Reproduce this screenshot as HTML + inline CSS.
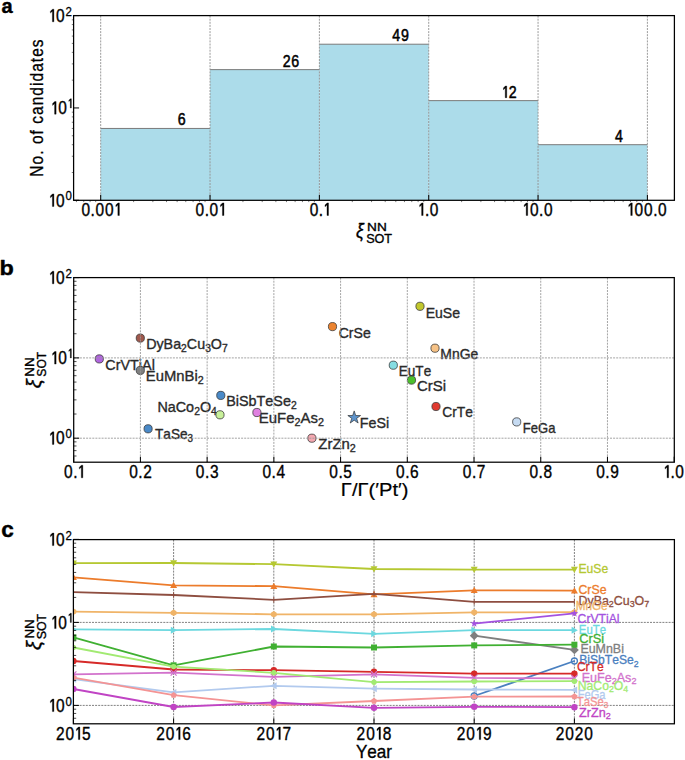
<!DOCTYPE html>
<html><head><meta charset="utf-8"><style>
html,body{margin:0;padding:0;background:#fff;}
svg{display:block;}
text{font-kerning:none;}
</style></head><body>
<svg width="685" height="760" viewBox="0 0 685 760">
<rect width="685" height="760" fill="#fff"/>
<g transform="translate(1.41,12.6) scale(0.9885,0.9979)" style='font-family:"Liberation Sans", sans-serif;font-weight:bold;' fill="#000" stroke="#000" stroke-width="0.4" stroke-linejoin="round"><text x="0" y="0" font-size="20.3">a</text></g>
<g transform="translate(-0.44,274.5) scale(1.1535,1.0333)" style='font-family:"Liberation Sans", sans-serif;font-weight:bold;' fill="#000" stroke="#000" stroke-width="0.4" stroke-linejoin="round"><text x="0" y="0" font-size="20.3">b</text></g>
<g transform="translate(1.22,536.6) scale(1.1109,1.0437)" style='font-family:"Liberation Sans", sans-serif;font-weight:bold;' fill="#000" stroke="#000" stroke-width="0.4" stroke-linejoin="round"><text x="0" y="0" font-size="20.3">c</text></g>
<rect x="100.7" y="128.44" width="109.34" height="71.86" fill="#acdcea"/>
<line x1="100.7" y1="128.44" x2="210.04" y2="128.44" stroke="#7a7a7a" stroke-width="1"/>
<rect x="210.04" y="69.63" width="109.34" height="130.67" fill="#acdcea"/>
<line x1="210.04" y1="69.63" x2="319.38" y2="69.63" stroke="#7a7a7a" stroke-width="1"/>
<rect x="319.38" y="44.21" width="109.34" height="156.09" fill="#acdcea"/>
<line x1="319.38" y1="44.21" x2="428.72" y2="44.21" stroke="#7a7a7a" stroke-width="1"/>
<rect x="428.72" y="100.64" width="109.34" height="99.66" fill="#acdcea"/>
<line x1="428.72" y1="100.64" x2="538.06" y2="100.64" stroke="#7a7a7a" stroke-width="1"/>
<rect x="538.06" y="144.7" width="109.34" height="55.6" fill="#acdcea"/>
<line x1="538.06" y1="144.7" x2="647.4" y2="144.7" stroke="#7a7a7a" stroke-width="1"/>
<line x1="100.7" y1="15.6" x2="100.7" y2="200.3" stroke="#909090" stroke-width="0.9" stroke-dasharray="2,1.1"/>
<line x1="210.04" y1="15.6" x2="210.04" y2="200.3" stroke="#909090" stroke-width="0.9" stroke-dasharray="2,1.1"/>
<line x1="319.38" y1="15.6" x2="319.38" y2="200.3" stroke="#909090" stroke-width="0.9" stroke-dasharray="2,1.1"/>
<line x1="428.72" y1="15.6" x2="428.72" y2="200.3" stroke="#909090" stroke-width="0.9" stroke-dasharray="2,1.1"/>
<line x1="538.06" y1="15.6" x2="538.06" y2="200.3" stroke="#909090" stroke-width="0.9" stroke-dasharray="2,1.1"/>
<line x1="647.4" y1="15.6" x2="647.4" y2="200.3" stroke="#909090" stroke-width="0.9" stroke-dasharray="2,1.1"/>
<g style='font-family:"Liberation Sans", sans-serif;' fill="#000" stroke="#000" stroke-width="0.52" stroke-linejoin="round"><text transform="translate(177.66,125.44) scale(0.860,1)" font-size="16.5">6</text></g>
<g style='font-family:"Liberation Sans", sans-serif;' fill="#000" stroke="#000" stroke-width="0.52" stroke-linejoin="round"><text transform="translate(282.65,66.63) scale(0.860,1)" font-size="16.5">2</text><text transform="translate(291.35,66.63) scale(0.860,1)" font-size="16.5">6</text></g>
<g style='font-family:"Liberation Sans", sans-serif;' fill="#000" stroke="#000" stroke-width="0.52" stroke-linejoin="round"><text transform="translate(392.21,41.21) scale(0.860,1)" font-size="16.5">4</text><text transform="translate(400.91,41.21) scale(0.860,1)" font-size="16.5">9</text></g>
<g style='font-family:"Liberation Sans", sans-serif;' fill="#000" stroke="#000" stroke-width="0.52" stroke-linejoin="round"><path transform="translate(501.83,97.64) scale(16.5)" stroke-width="0.0273" d="M0.295,0 L0.295,-0.70 L0.215,-0.70 L0.10,-0.585 L0.10,-0.485 L0.21,-0.59 L0.21,0 Z"/><text transform="translate(508.69,97.64) scale(0.860,1)" font-size="16.5">2</text></g>
<g style='font-family:"Liberation Sans", sans-serif;' fill="#000" stroke="#000" stroke-width="0.52" stroke-linejoin="round"><text transform="translate(615.11,141.7) scale(0.860,1)" font-size="16.5">4</text></g>
<line x1="100.7" y1="200.3" x2="100.7" y2="194.8" stroke="#000" stroke-width="1"/>
<line x1="210.04" y1="200.3" x2="210.04" y2="194.8" stroke="#000" stroke-width="1"/>
<line x1="319.38" y1="200.3" x2="319.38" y2="194.8" stroke="#000" stroke-width="1"/>
<line x1="428.72" y1="200.3" x2="428.72" y2="194.8" stroke="#000" stroke-width="1"/>
<line x1="538.06" y1="200.3" x2="538.06" y2="194.8" stroke="#000" stroke-width="1"/>
<line x1="647.4" y1="200.3" x2="647.4" y2="194.8" stroke="#000" stroke-width="1"/>
<line x1="76.44" y1="200.3" x2="76.44" y2="202.1" stroke="#444" stroke-width="0.7"/>
<line x1="83.76" y1="200.3" x2="83.76" y2="202.1" stroke="#444" stroke-width="0.7"/>
<line x1="90.1" y1="200.3" x2="90.1" y2="202.1" stroke="#444" stroke-width="0.7"/>
<line x1="95.7" y1="200.3" x2="95.7" y2="202.1" stroke="#444" stroke-width="0.7"/>
<line x1="133.61" y1="200.3" x2="133.61" y2="202.1" stroke="#444" stroke-width="0.7"/>
<line x1="152.87" y1="200.3" x2="152.87" y2="202.1" stroke="#444" stroke-width="0.7"/>
<line x1="166.53" y1="200.3" x2="166.53" y2="202.1" stroke="#444" stroke-width="0.7"/>
<line x1="177.13" y1="200.3" x2="177.13" y2="202.1" stroke="#444" stroke-width="0.7"/>
<line x1="185.78" y1="200.3" x2="185.78" y2="202.1" stroke="#444" stroke-width="0.7"/>
<line x1="193.1" y1="200.3" x2="193.1" y2="202.1" stroke="#444" stroke-width="0.7"/>
<line x1="199.44" y1="200.3" x2="199.44" y2="202.1" stroke="#444" stroke-width="0.7"/>
<line x1="205.04" y1="200.3" x2="205.04" y2="202.1" stroke="#444" stroke-width="0.7"/>
<line x1="242.95" y1="200.3" x2="242.95" y2="202.1" stroke="#444" stroke-width="0.7"/>
<line x1="262.21" y1="200.3" x2="262.21" y2="202.1" stroke="#444" stroke-width="0.7"/>
<line x1="275.87" y1="200.3" x2="275.87" y2="202.1" stroke="#444" stroke-width="0.7"/>
<line x1="286.47" y1="200.3" x2="286.47" y2="202.1" stroke="#444" stroke-width="0.7"/>
<line x1="295.12" y1="200.3" x2="295.12" y2="202.1" stroke="#444" stroke-width="0.7"/>
<line x1="302.44" y1="200.3" x2="302.44" y2="202.1" stroke="#444" stroke-width="0.7"/>
<line x1="308.78" y1="200.3" x2="308.78" y2="202.1" stroke="#444" stroke-width="0.7"/>
<line x1="314.38" y1="200.3" x2="314.38" y2="202.1" stroke="#444" stroke-width="0.7"/>
<line x1="352.29" y1="200.3" x2="352.29" y2="202.1" stroke="#444" stroke-width="0.7"/>
<line x1="371.55" y1="200.3" x2="371.55" y2="202.1" stroke="#444" stroke-width="0.7"/>
<line x1="385.21" y1="200.3" x2="385.21" y2="202.1" stroke="#444" stroke-width="0.7"/>
<line x1="395.81" y1="200.3" x2="395.81" y2="202.1" stroke="#444" stroke-width="0.7"/>
<line x1="404.46" y1="200.3" x2="404.46" y2="202.1" stroke="#444" stroke-width="0.7"/>
<line x1="411.78" y1="200.3" x2="411.78" y2="202.1" stroke="#444" stroke-width="0.7"/>
<line x1="418.12" y1="200.3" x2="418.12" y2="202.1" stroke="#444" stroke-width="0.7"/>
<line x1="423.72" y1="200.3" x2="423.72" y2="202.1" stroke="#444" stroke-width="0.7"/>
<line x1="461.63" y1="200.3" x2="461.63" y2="202.1" stroke="#444" stroke-width="0.7"/>
<line x1="480.89" y1="200.3" x2="480.89" y2="202.1" stroke="#444" stroke-width="0.7"/>
<line x1="494.55" y1="200.3" x2="494.55" y2="202.1" stroke="#444" stroke-width="0.7"/>
<line x1="505.15" y1="200.3" x2="505.15" y2="202.1" stroke="#444" stroke-width="0.7"/>
<line x1="513.8" y1="200.3" x2="513.8" y2="202.1" stroke="#444" stroke-width="0.7"/>
<line x1="521.12" y1="200.3" x2="521.12" y2="202.1" stroke="#444" stroke-width="0.7"/>
<line x1="527.46" y1="200.3" x2="527.46" y2="202.1" stroke="#444" stroke-width="0.7"/>
<line x1="533.06" y1="200.3" x2="533.06" y2="202.1" stroke="#444" stroke-width="0.7"/>
<line x1="570.97" y1="200.3" x2="570.97" y2="202.1" stroke="#444" stroke-width="0.7"/>
<line x1="590.23" y1="200.3" x2="590.23" y2="202.1" stroke="#444" stroke-width="0.7"/>
<line x1="603.89" y1="200.3" x2="603.89" y2="202.1" stroke="#444" stroke-width="0.7"/>
<line x1="614.49" y1="200.3" x2="614.49" y2="202.1" stroke="#444" stroke-width="0.7"/>
<line x1="623.14" y1="200.3" x2="623.14" y2="202.1" stroke="#444" stroke-width="0.7"/>
<line x1="630.46" y1="200.3" x2="630.46" y2="202.1" stroke="#444" stroke-width="0.7"/>
<line x1="636.8" y1="200.3" x2="636.8" y2="202.1" stroke="#444" stroke-width="0.7"/>
<line x1="642.4" y1="200.3" x2="642.4" y2="202.1" stroke="#444" stroke-width="0.7"/>
<line x1="73.6" y1="200.3" x2="79.1" y2="200.3" stroke="#000" stroke-width="1"/>
<line x1="73.6" y1="107.95" x2="79.1" y2="107.95" stroke="#000" stroke-width="1"/>
<line x1="73.6" y1="15.6" x2="79.1" y2="15.6" stroke="#000" stroke-width="1"/>
<line x1="73.6" y1="172.5" x2="71.8" y2="172.5" stroke="#444" stroke-width="0.7"/>
<line x1="73.6" y1="156.24" x2="71.8" y2="156.24" stroke="#444" stroke-width="0.7"/>
<line x1="73.6" y1="144.7" x2="71.8" y2="144.7" stroke="#444" stroke-width="0.7"/>
<line x1="73.6" y1="135.75" x2="71.8" y2="135.75" stroke="#444" stroke-width="0.7"/>
<line x1="73.6" y1="128.44" x2="71.8" y2="128.44" stroke="#444" stroke-width="0.7"/>
<line x1="73.6" y1="122.26" x2="71.8" y2="122.26" stroke="#444" stroke-width="0.7"/>
<line x1="73.6" y1="116.9" x2="71.8" y2="116.9" stroke="#444" stroke-width="0.7"/>
<line x1="73.6" y1="112.18" x2="71.8" y2="112.18" stroke="#444" stroke-width="0.7"/>
<line x1="73.6" y1="80.15" x2="71.8" y2="80.15" stroke="#444" stroke-width="0.7"/>
<line x1="73.6" y1="63.89" x2="71.8" y2="63.89" stroke="#444" stroke-width="0.7"/>
<line x1="73.6" y1="52.35" x2="71.8" y2="52.35" stroke="#444" stroke-width="0.7"/>
<line x1="73.6" y1="43.4" x2="71.8" y2="43.4" stroke="#444" stroke-width="0.7"/>
<line x1="73.6" y1="36.09" x2="71.8" y2="36.09" stroke="#444" stroke-width="0.7"/>
<line x1="73.6" y1="29.91" x2="71.8" y2="29.91" stroke="#444" stroke-width="0.7"/>
<line x1="73.6" y1="24.55" x2="71.8" y2="24.55" stroke="#444" stroke-width="0.7"/>
<line x1="73.6" y1="19.83" x2="71.8" y2="19.83" stroke="#444" stroke-width="0.7"/>
<rect x="73.6" y="15.6" width="600.8" height="184.7" fill="none" stroke="#000" stroke-width="1.25"/>
<g style='font-family:"Liberation Sans", sans-serif;' fill="#000" stroke="#000" stroke-width="0.37" stroke-linejoin="round"><text transform="translate(81.42,215.5) scale(0.860,1)" font-size="18">0</text><text transform="translate(90.59,215.5) scale(0.860,1)" font-size="18">.</text><text transform="translate(95.46,215.5) scale(0.860,1)" font-size="18">0</text><text transform="translate(105,215.5) scale(0.860,1)" font-size="18">0</text><path transform="translate(114.07,215.5) scale(18)" stroke-width="0.0178" d="M0.295,0 L0.295,-0.70 L0.215,-0.70 L0.10,-0.585 L0.10,-0.485 L0.21,-0.59 L0.21,0 Z"/></g>
<g style='font-family:"Liberation Sans", sans-serif;' fill="#000" stroke="#000" stroke-width="0.37" stroke-linejoin="round"><text transform="translate(195.53,215.5) scale(0.860,1)" font-size="18">0</text><text transform="translate(204.7,215.5) scale(0.860,1)" font-size="18">.</text><text transform="translate(209.57,215.5) scale(0.860,1)" font-size="18">0</text><path transform="translate(218.64,215.5) scale(18)" stroke-width="0.0178" d="M0.295,0 L0.295,-0.70 L0.215,-0.70 L0.10,-0.585 L0.10,-0.485 L0.21,-0.59 L0.21,0 Z"/></g>
<g style='font-family:"Liberation Sans", sans-serif;' fill="#000" stroke="#000" stroke-width="0.37" stroke-linejoin="round"><text transform="translate(309.64,215.5) scale(0.860,1)" font-size="18">0</text><text transform="translate(318.81,215.5) scale(0.860,1)" font-size="18">.</text><path transform="translate(323.21,215.5) scale(18)" stroke-width="0.0178" d="M0.295,0 L0.295,-0.70 L0.215,-0.70 L0.10,-0.585 L0.10,-0.485 L0.21,-0.59 L0.21,0 Z"/></g>
<g style='font-family:"Liberation Sans", sans-serif;' fill="#000" stroke="#000" stroke-width="0.37" stroke-linejoin="round"><path transform="translate(417.83,215.5) scale(18)" stroke-width="0.0178" d="M0.295,0 L0.295,-0.70 L0.215,-0.70 L0.10,-0.585 L0.10,-0.485 L0.21,-0.59 L0.21,0 Z"/><text transform="translate(424.94,215.5) scale(0.860,1)" font-size="18">.</text><text transform="translate(429.81,215.5) scale(0.860,1)" font-size="18">0</text></g>
<g style='font-family:"Liberation Sans", sans-serif;' fill="#000" stroke="#000" stroke-width="0.37" stroke-linejoin="round"><path transform="translate(522.4,215.5) scale(18)" stroke-width="0.0178" d="M0.295,0 L0.295,-0.70 L0.215,-0.70 L0.10,-0.585 L0.10,-0.485 L0.21,-0.59 L0.21,0 Z"/><text transform="translate(529.88,215.5) scale(0.860,1)" font-size="18">0</text><text transform="translate(539.05,215.5) scale(0.860,1)" font-size="18">.</text><text transform="translate(543.92,215.5) scale(0.860,1)" font-size="18">0</text></g>
<g style='font-family:"Liberation Sans", sans-serif;' fill="#000" stroke="#000" stroke-width="0.37" stroke-linejoin="round"><path transform="translate(626.97,215.5) scale(18)" stroke-width="0.0178" d="M0.295,0 L0.295,-0.70 L0.215,-0.70 L0.10,-0.585 L0.10,-0.485 L0.21,-0.59 L0.21,0 Z"/><text transform="translate(634.45,215.5) scale(0.860,1)" font-size="18">0</text><text transform="translate(643.99,215.5) scale(0.860,1)" font-size="18">0</text><text transform="translate(653.16,215.5) scale(0.860,1)" font-size="18">.</text><text transform="translate(658.03,215.5) scale(0.860,1)" font-size="18">0</text></g>
<g style='font-family:"Liberation Sans", sans-serif;' fill="#000" stroke="#000" stroke-width="0.37" stroke-linejoin="round"><path transform="translate(48.61,206.5) scale(18)" stroke-width="0.0178" d="M0.295,0 L0.295,-0.70 L0.215,-0.70 L0.10,-0.585 L0.10,-0.485 L0.21,-0.59 L0.21,0 Z"/><text transform="translate(56.1,206.5) scale(0.860,1)" font-size="18">0</text></g>
<g style='font-family:"Liberation Sans", sans-serif;' fill="#000" stroke="#000" stroke-width="0.3" stroke-linejoin="round"><text transform="translate(65.38,200.4) scale(0.860,1)" font-size="13.32">0</text></g>
<g style='font-family:"Liberation Sans", sans-serif;' fill="#000" stroke="#000" stroke-width="0.37" stroke-linejoin="round"><path transform="translate(50.81,114.15) scale(18)" stroke-width="0.0178" d="M0.295,0 L0.295,-0.70 L0.215,-0.70 L0.10,-0.585 L0.10,-0.485 L0.21,-0.59 L0.21,0 Z"/><text transform="translate(58.3,114.15) scale(0.860,1)" font-size="18">0</text></g>
<g style='font-family:"Liberation Sans", sans-serif;' fill="#000" stroke="#000" stroke-width="0.3" stroke-linejoin="round"><path transform="translate(67.47,108.05) scale(13.32)" stroke-width="0.0192" d="M0.295,0 L0.295,-0.70 L0.215,-0.70 L0.10,-0.585 L0.10,-0.485 L0.21,-0.59 L0.21,0 Z"/></g>
<g style='font-family:"Liberation Sans", sans-serif;' fill="#000" stroke="#000" stroke-width="0.37" stroke-linejoin="round"><path transform="translate(48.61,21.8) scale(18)" stroke-width="0.0178" d="M0.295,0 L0.295,-0.70 L0.215,-0.70 L0.10,-0.585 L0.10,-0.485 L0.21,-0.59 L0.21,0 Z"/><text transform="translate(56.1,21.8) scale(0.860,1)" font-size="18">0</text></g>
<g style='font-family:"Liberation Sans", sans-serif;' fill="#000" stroke="#000" stroke-width="0.3" stroke-linejoin="round"><text transform="translate(65.51,15.7) scale(0.860,1)" font-size="13.32">2</text></g>
<g transform="translate(43.1,176.67) rotate(-90) scale(0.8600,1.0044)" style='font-family:"Liberation Sans", sans-serif;' fill="#000" stroke="#000" stroke-width="0.32" stroke-linejoin="round"><text x="0" y="0" font-size="18" letter-spacing="1.225">No. of candidates</text></g>
<g transform="translate(356.03,238.24) scale(0.9714,1.0763)" style='font-family:"Liberation Sans", sans-serif;font-style:italic;' fill="#000" stroke="#000" stroke-width="0.3" stroke-linejoin="round"><text x="0" y="0" font-size="18">ξ</text></g>
<g transform="translate(367.08,230.8) scale(1.0931,0.9419)" style='font-family:"Liberation Sans", sans-serif;' fill="#000" stroke="#000" stroke-width="0.35" stroke-linejoin="round"><text x="0" y="0" font-size="12.5">NN</text></g>
<g transform="translate(366.13,242.7) scale(1.0104,1.0082)" style='font-family:"Liberation Sans", sans-serif;' fill="#000" stroke="#000" stroke-width="0.35" stroke-linejoin="round"><text x="0" y="0" font-size="12.5">SOT</text></g>
<g transform="translate(146.13,349.3) scale(0.9936,1.0000)" style='font-family:"Liberation Sans", sans-serif;' fill="#2a2a2a" stroke="#2a2a2a" stroke-width="0.35" stroke-linejoin="round"><text x="0" y="0" font-size="14.4">DyBa</text><text x="35.21" y="2.88" font-size="10.37">2</text><text x="40.98" y="0" font-size="14.4">Cu</text><text x="59.39" y="2.88" font-size="10.37">3</text><text x="65.15" y="0" font-size="14.4">O</text><text x="76.35" y="2.88" font-size="10.37">7</text></g>
<g transform="translate(105.37,369.7) scale(0.9978,1.0000)" style='font-family:"Liberation Sans", sans-serif;' fill="#2a2a2a" stroke="#2a2a2a" stroke-width="0.35" stroke-linejoin="round"><text x="0" y="0" font-size="14.4">CrVTiAl</text></g>
<g transform="translate(145.78,381) scale(1.0296,1.0000)" style='font-family:"Liberation Sans", sans-serif;' fill="#2a2a2a" stroke="#2a2a2a" stroke-width="0.35" stroke-linejoin="round"><text x="0" y="0" font-size="14.4">EuMnBi</text><text x="50.42" y="2.88" font-size="10.37">2</text></g>
<g transform="translate(226.22,406.3) scale(0.9986,1.0000)" style='font-family:"Liberation Sans", sans-serif;' fill="#2a2a2a" stroke="#2a2a2a" stroke-width="0.35" stroke-linejoin="round"><text x="0" y="0" font-size="14.4">BiSbTeSe</text><text x="64.84" y="2.88" font-size="10.37">2</text></g>
<g transform="translate(157.42,412) scale(0.9972,1.0000)" style='font-family:"Liberation Sans", sans-serif;' fill="#2a2a2a" stroke="#2a2a2a" stroke-width="0.35" stroke-linejoin="round"><text x="0" y="0" font-size="14.4">NaCo</text><text x="36.82" y="2.88" font-size="10.37">2</text><text x="42.58" y="0" font-size="14.4">O</text><text x="53.78" y="2.88" font-size="10.37">4</text></g>
<g transform="translate(258.77,423.1) scale(1.0385,1.0000)" style='font-family:"Liberation Sans", sans-serif;' fill="#2a2a2a" stroke="#2a2a2a" stroke-width="0.35" stroke-linejoin="round"><text x="0" y="0" font-size="14.4">EuFe</text><text x="34.42" y="2.88" font-size="10.37">2</text><text x="40.18" y="0" font-size="14.4">As</text><text x="56.99" y="2.88" font-size="10.37">2</text></g>
<g transform="translate(154.99,439.1) scale(0.9466,1.0000)" style='font-family:"Liberation Sans", sans-serif;' fill="#2a2a2a" stroke="#2a2a2a" stroke-width="0.35" stroke-linejoin="round"><text x="0" y="0" font-size="14.4">TaSe</text><text x="34.42" y="2.88" font-size="10.37">3</text></g>
<g transform="translate(318.33,448.9) scale(1.0374,1.0000)" style='font-family:"Liberation Sans", sans-serif;' fill="#2a2a2a" stroke="#2a2a2a" stroke-width="0.35" stroke-linejoin="round"><text x="0" y="0" font-size="14.4">ZrZn</text><text x="30.4" y="2.88" font-size="10.37">2</text></g>
<g transform="translate(338.68,337.9) scale(0.9797,1.0000)" style='font-family:"Liberation Sans", sans-serif;' fill="#2a2a2a" stroke="#2a2a2a" stroke-width="0.35" stroke-linejoin="round"><text x="0" y="0" font-size="14.4">CrSe</text></g>
<g transform="translate(425.64,317.6) scale(0.9789,1.0000)" style='font-family:"Liberation Sans", sans-serif;' fill="#2a2a2a" stroke="#2a2a2a" stroke-width="0.35" stroke-linejoin="round"><text x="0" y="0" font-size="14.4">EuSe</text></g>
<g transform="translate(440.36,359.2) scale(0.9681,1.0000)" style='font-family:"Liberation Sans", sans-serif;' fill="#2a2a2a" stroke="#2a2a2a" stroke-width="0.35" stroke-linejoin="round"><text x="0" y="0" font-size="14.4">MnGe</text></g>
<g transform="translate(398.79,376) scale(0.9418,1.0000)" style='font-family:"Liberation Sans", sans-serif;' fill="#2a2a2a" stroke="#2a2a2a" stroke-width="0.35" stroke-linejoin="round"><text x="0" y="0" font-size="14.4">EuTe</text></g>
<g transform="translate(417.04,390.9) scale(1.0419,1.0000)" style='font-family:"Liberation Sans", sans-serif;' fill="#2a2a2a" stroke="#2a2a2a" stroke-width="0.35" stroke-linejoin="round"><text x="0" y="0" font-size="14.4">CrSi</text></g>
<g transform="translate(442.2,416.9) scale(0.9599,1.0000)" style='font-family:"Liberation Sans", sans-serif;' fill="#2a2a2a" stroke="#2a2a2a" stroke-width="0.35" stroke-linejoin="round"><text x="0" y="0" font-size="14.4">CrTe</text></g>
<g transform="translate(359.83,428) scale(0.9906,1.0000)" style='font-family:"Liberation Sans", sans-serif;' fill="#2a2a2a" stroke="#2a2a2a" stroke-width="0.35" stroke-linejoin="round"><text x="0" y="0" font-size="14.4">FeSi</text></g>
<g transform="translate(522.83,432.8) scale(0.9072,1.0000)" style='font-family:"Liberation Sans", sans-serif;' fill="#2a2a2a" stroke="#2a2a2a" stroke-width="0.35" stroke-linejoin="round"><text x="0" y="0" font-size="14.4">FeGa</text></g>
<circle cx="140.3" cy="338.1" r="4.1" fill="#a0584c" stroke="#333" stroke-width="0.75"/>
<circle cx="99.3" cy="358.9" r="4.1" fill="#b266e0" stroke="#333" stroke-width="0.75"/>
<circle cx="140.3" cy="370.4" r="4.1" fill="#808080" stroke="#333" stroke-width="0.75"/>
<circle cx="220.8" cy="395.4" r="4.1" fill="#4a8ac8" stroke="#333" stroke-width="0.75"/>
<circle cx="220" cy="414.8" r="4.1" fill="#c8f09a" stroke="#333" stroke-width="0.75"/>
<circle cx="256.9" cy="412.5" r="4.1" fill="#e080e0" stroke="#333" stroke-width="0.75"/>
<circle cx="148.1" cy="428.8" r="4.1" fill="#4a8ac8" stroke="#333" stroke-width="0.75"/>
<circle cx="311.9" cy="438.2" r="4.1" fill="#f4a8b0" stroke="#333" stroke-width="0.75"/>
<circle cx="332.5" cy="326.6" r="4.1" fill="#ec8430" stroke="#333" stroke-width="0.75"/>
<circle cx="420" cy="306.3" r="4.1" fill="#c2c82e" stroke="#333" stroke-width="0.75"/>
<circle cx="435" cy="348.2" r="4.1" fill="#f6c286" stroke="#333" stroke-width="0.75"/>
<circle cx="393.3" cy="365.2" r="4.1" fill="#86dde2" stroke="#333" stroke-width="0.75"/>
<circle cx="411.5" cy="380.1" r="4.1" fill="#4cbf2c" stroke="#333" stroke-width="0.75"/>
<circle cx="436" cy="406.5" r="4.1" fill="#e03a30" stroke="#333" stroke-width="0.75"/>
<circle cx="516.7" cy="421.9" r="4.1" fill="#c6dbf2" stroke="#333" stroke-width="0.75"/>
<polygon points="354.2,410.9 355.7,415.53 360.57,415.53 356.63,418.39 358.14,423.02 354.2,420.16 350.26,423.02 351.77,418.39 347.83,415.53 352.7,415.53" fill="#5e94cc" stroke="#333" stroke-width="0.7"/>
<line x1="140.42" y1="277.6" x2="140.42" y2="462.2" stroke="#9a9a9a" stroke-width="0.9" stroke-dasharray="2,1.1"/>
<line x1="207.14" y1="277.6" x2="207.14" y2="462.2" stroke="#9a9a9a" stroke-width="0.9" stroke-dasharray="2,1.1"/>
<line x1="273.86" y1="277.6" x2="273.86" y2="462.2" stroke="#9a9a9a" stroke-width="0.9" stroke-dasharray="2,1.1"/>
<line x1="340.58" y1="277.6" x2="340.58" y2="462.2" stroke="#9a9a9a" stroke-width="0.9" stroke-dasharray="2,1.1"/>
<line x1="407.3" y1="277.6" x2="407.3" y2="462.2" stroke="#9a9a9a" stroke-width="0.9" stroke-dasharray="2,1.1"/>
<line x1="474.02" y1="277.6" x2="474.02" y2="462.2" stroke="#9a9a9a" stroke-width="0.9" stroke-dasharray="2,1.1"/>
<line x1="540.74" y1="277.6" x2="540.74" y2="462.2" stroke="#9a9a9a" stroke-width="0.9" stroke-dasharray="2,1.1"/>
<line x1="607.46" y1="277.6" x2="607.46" y2="462.2" stroke="#9a9a9a" stroke-width="0.9" stroke-dasharray="2,1.1"/>
<line x1="73.7" y1="438.2" x2="674.3" y2="438.2" stroke="#9a9a9a" stroke-width="0.9" stroke-dasharray="2,1.1"/>
<line x1="73.7" y1="357.9" x2="674.3" y2="357.9" stroke="#9a9a9a" stroke-width="0.9" stroke-dasharray="2,1.1"/>
<line x1="73.7" y1="462.2" x2="73.7" y2="456.7" stroke="#000" stroke-width="1"/>
<line x1="140.42" y1="462.2" x2="140.42" y2="456.7" stroke="#000" stroke-width="1"/>
<line x1="207.14" y1="462.2" x2="207.14" y2="456.7" stroke="#000" stroke-width="1"/>
<line x1="273.86" y1="462.2" x2="273.86" y2="456.7" stroke="#000" stroke-width="1"/>
<line x1="340.58" y1="462.2" x2="340.58" y2="456.7" stroke="#000" stroke-width="1"/>
<line x1="407.3" y1="462.2" x2="407.3" y2="456.7" stroke="#000" stroke-width="1"/>
<line x1="474.02" y1="462.2" x2="474.02" y2="456.7" stroke="#000" stroke-width="1"/>
<line x1="540.74" y1="462.2" x2="540.74" y2="456.7" stroke="#000" stroke-width="1"/>
<line x1="607.46" y1="462.2" x2="607.46" y2="456.7" stroke="#000" stroke-width="1"/>
<line x1="674.18" y1="462.2" x2="674.18" y2="456.7" stroke="#000" stroke-width="1"/>
<line x1="73.7" y1="438.2" x2="79.2" y2="438.2" stroke="#000" stroke-width="1"/>
<line x1="73.7" y1="357.9" x2="79.2" y2="357.9" stroke="#000" stroke-width="1"/>
<line x1="73.7" y1="277.6" x2="79.2" y2="277.6" stroke="#000" stroke-width="1"/>
<line x1="73.7" y1="456.01" x2="76.5" y2="456.01" stroke="#000" stroke-width="0.7"/>
<line x1="73.7" y1="450.64" x2="76.5" y2="450.64" stroke="#000" stroke-width="0.7"/>
<line x1="73.7" y1="445.98" x2="76.5" y2="445.98" stroke="#000" stroke-width="0.7"/>
<line x1="73.7" y1="441.87" x2="76.5" y2="441.87" stroke="#000" stroke-width="0.7"/>
<line x1="73.7" y1="414.03" x2="76.5" y2="414.03" stroke="#000" stroke-width="0.7"/>
<line x1="73.7" y1="399.89" x2="76.5" y2="399.89" stroke="#000" stroke-width="0.7"/>
<line x1="73.7" y1="389.85" x2="76.5" y2="389.85" stroke="#000" stroke-width="0.7"/>
<line x1="73.7" y1="382.07" x2="76.5" y2="382.07" stroke="#000" stroke-width="0.7"/>
<line x1="73.7" y1="375.71" x2="76.5" y2="375.71" stroke="#000" stroke-width="0.7"/>
<line x1="73.7" y1="370.34" x2="76.5" y2="370.34" stroke="#000" stroke-width="0.7"/>
<line x1="73.7" y1="365.68" x2="76.5" y2="365.68" stroke="#000" stroke-width="0.7"/>
<line x1="73.7" y1="361.57" x2="76.5" y2="361.57" stroke="#000" stroke-width="0.7"/>
<line x1="73.7" y1="333.73" x2="76.5" y2="333.73" stroke="#000" stroke-width="0.7"/>
<line x1="73.7" y1="319.59" x2="76.5" y2="319.59" stroke="#000" stroke-width="0.7"/>
<line x1="73.7" y1="309.55" x2="76.5" y2="309.55" stroke="#000" stroke-width="0.7"/>
<line x1="73.7" y1="301.77" x2="76.5" y2="301.77" stroke="#000" stroke-width="0.7"/>
<line x1="73.7" y1="295.41" x2="76.5" y2="295.41" stroke="#000" stroke-width="0.7"/>
<line x1="73.7" y1="290.04" x2="76.5" y2="290.04" stroke="#000" stroke-width="0.7"/>
<line x1="73.7" y1="285.38" x2="76.5" y2="285.38" stroke="#000" stroke-width="0.7"/>
<line x1="73.7" y1="281.27" x2="76.5" y2="281.27" stroke="#000" stroke-width="0.7"/>
<rect x="73.7" y="277.6" width="600.6" height="184.6" fill="none" stroke="#000" stroke-width="1.25"/>
<g style='font-family:"Liberation Sans", sans-serif;' fill="#000" stroke="#000" stroke-width="0.37" stroke-linejoin="round"><text transform="translate(63.96,477.8) scale(0.860,1)" font-size="18">0</text><text transform="translate(73.13,477.8) scale(0.860,1)" font-size="18">.</text><path transform="translate(77.53,477.8) scale(18)" stroke-width="0.0178" d="M0.295,0 L0.295,-0.70 L0.215,-0.70 L0.10,-0.585 L0.10,-0.485 L0.21,-0.59 L0.21,0 Z"/></g>
<g style='font-family:"Liberation Sans", sans-serif;' fill="#000" stroke="#000" stroke-width="0.37" stroke-linejoin="round"><text transform="translate(129.18,477.8) scale(0.860,1)" font-size="18">0</text><text transform="translate(138.36,477.8) scale(0.860,1)" font-size="18">.</text><text transform="translate(143.22,477.8) scale(0.860,1)" font-size="18">2</text></g>
<g style='font-family:"Liberation Sans", sans-serif;' fill="#000" stroke="#000" stroke-width="0.37" stroke-linejoin="round"><text transform="translate(195.83,477.8) scale(0.860,1)" font-size="18">0</text><text transform="translate(205,477.8) scale(0.860,1)" font-size="18">.</text><text transform="translate(209.92,477.8) scale(0.860,1)" font-size="18">3</text></g>
<g style='font-family:"Liberation Sans", sans-serif;' fill="#000" stroke="#000" stroke-width="0.37" stroke-linejoin="round"><text transform="translate(262.44,477.8) scale(0.860,1)" font-size="18">0</text><text transform="translate(271.61,477.8) scale(0.860,1)" font-size="18">.</text><text transform="translate(276.52,477.8) scale(0.860,1)" font-size="18">4</text></g>
<g style='font-family:"Liberation Sans", sans-serif;' fill="#000" stroke="#000" stroke-width="0.37" stroke-linejoin="round"><text transform="translate(329.27,477.8) scale(0.860,1)" font-size="18">0</text><text transform="translate(338.44,477.8) scale(0.860,1)" font-size="18">.</text><text transform="translate(343.33,477.8) scale(0.860,1)" font-size="18">5</text></g>
<g style='font-family:"Liberation Sans", sans-serif;' fill="#000" stroke="#000" stroke-width="0.37" stroke-linejoin="round"><text transform="translate(396.04,477.8) scale(0.860,1)" font-size="18">0</text><text transform="translate(405.21,477.8) scale(0.860,1)" font-size="18">.</text><text transform="translate(410.03,477.8) scale(0.860,1)" font-size="18">6</text></g>
<g style='font-family:"Liberation Sans", sans-serif;' fill="#000" stroke="#000" stroke-width="0.37" stroke-linejoin="round"><text transform="translate(462.79,477.8) scale(0.860,1)" font-size="18">0</text><text transform="translate(471.96,477.8) scale(0.860,1)" font-size="18">.</text><text transform="translate(476.82,477.8) scale(0.860,1)" font-size="18">7</text></g>
<g style='font-family:"Liberation Sans", sans-serif;' fill="#000" stroke="#000" stroke-width="0.37" stroke-linejoin="round"><text transform="translate(529.45,477.8) scale(0.860,1)" font-size="18">0</text><text transform="translate(538.62,477.8) scale(0.860,1)" font-size="18">.</text><text transform="translate(543.49,477.8) scale(0.860,1)" font-size="18">8</text></g>
<g style='font-family:"Liberation Sans", sans-serif;' fill="#000" stroke="#000" stroke-width="0.37" stroke-linejoin="round"><text transform="translate(596.2,477.8) scale(0.860,1)" font-size="18">0</text><text transform="translate(605.37,477.8) scale(0.860,1)" font-size="18">.</text><text transform="translate(610.24,477.8) scale(0.860,1)" font-size="18">9</text></g>
<g style='font-family:"Liberation Sans", sans-serif;' fill="#000" stroke="#000" stroke-width="0.37" stroke-linejoin="round"><path transform="translate(663.29,477.8) scale(18)" stroke-width="0.0178" d="M0.295,0 L0.295,-0.70 L0.215,-0.70 L0.10,-0.585 L0.10,-0.485 L0.21,-0.59 L0.21,0 Z"/><text transform="translate(670.4,477.8) scale(0.860,1)" font-size="18">.</text><text transform="translate(675.27,477.8) scale(0.860,1)" font-size="18">0</text></g>
<g style='font-family:"Liberation Sans", sans-serif;' fill="#000" stroke="#000" stroke-width="0.37" stroke-linejoin="round"><path transform="translate(48.61,444.4) scale(18)" stroke-width="0.0178" d="M0.295,0 L0.295,-0.70 L0.215,-0.70 L0.10,-0.585 L0.10,-0.485 L0.21,-0.59 L0.21,0 Z"/><text transform="translate(56.1,444.4) scale(0.860,1)" font-size="18">0</text></g>
<g style='font-family:"Liberation Sans", sans-serif;' fill="#000" stroke="#000" stroke-width="0.3" stroke-linejoin="round"><text transform="translate(65.38,438.3) scale(0.860,1)" font-size="13.32">0</text></g>
<g style='font-family:"Liberation Sans", sans-serif;' fill="#000" stroke="#000" stroke-width="0.37" stroke-linejoin="round"><path transform="translate(50.81,364.1) scale(18)" stroke-width="0.0178" d="M0.295,0 L0.295,-0.70 L0.215,-0.70 L0.10,-0.585 L0.10,-0.485 L0.21,-0.59 L0.21,0 Z"/><text transform="translate(58.3,364.1) scale(0.860,1)" font-size="18">0</text></g>
<g style='font-family:"Liberation Sans", sans-serif;' fill="#000" stroke="#000" stroke-width="0.3" stroke-linejoin="round"><path transform="translate(67.47,358) scale(13.32)" stroke-width="0.0192" d="M0.295,0 L0.295,-0.70 L0.215,-0.70 L0.10,-0.585 L0.10,-0.485 L0.21,-0.59 L0.21,0 Z"/></g>
<g style='font-family:"Liberation Sans", sans-serif;' fill="#000" stroke="#000" stroke-width="0.37" stroke-linejoin="round"><path transform="translate(48.61,283.8) scale(18)" stroke-width="0.0178" d="M0.295,0 L0.295,-0.70 L0.215,-0.70 L0.10,-0.585 L0.10,-0.485 L0.21,-0.59 L0.21,0 Z"/><text transform="translate(56.1,283.8) scale(0.860,1)" font-size="18">0</text></g>
<g style='font-family:"Liberation Sans", sans-serif;' fill="#000" stroke="#000" stroke-width="0.3" stroke-linejoin="round"><text transform="translate(65.51,277.7) scale(0.860,1)" font-size="13.32">2</text></g>
<g transform="translate(340.85,495.9) scale(1.1176,1.0000)" style='font-family:"Liberation Sans", sans-serif;' fill="#000" stroke="#000" stroke-width="0.2" stroke-linejoin="round"><text x="0" y="0" font-size="18">Γ/Γ(′Pt′)</text></g>
<g transform="translate(41.34,388.14) rotate(-90) scale(1.1171,1.1070)" style='font-family:"Liberation Sans", sans-serif;font-style:italic;' fill="#000" stroke="#000" stroke-width="0.3" stroke-linejoin="round"><text x="0" y="0" font-size="18">ξ</text></g>
<g transform="translate(33.8,376.69) rotate(-90) scale(1.0619,1.0233)" style='font-family:"Liberation Sans", sans-serif;' fill="#000" stroke="#000" stroke-width="0.35" stroke-linejoin="round"><text x="0" y="0" font-size="12.5">NN</text></g>
<g transform="translate(46.17,376.65) rotate(-90) scale(0.9661,1.0508)" style='font-family:"Liberation Sans", sans-serif;' fill="#000" stroke="#000" stroke-width="0.35" stroke-linejoin="round"><text x="0" y="0" font-size="12.5">SOT</text></g>
<line x1="173.6" y1="539.6" x2="173.6" y2="723.8" stroke="#6a6a6a" stroke-width="0.85" stroke-dasharray="2,1.1"/>
<line x1="273.8" y1="539.6" x2="273.8" y2="723.8" stroke="#6a6a6a" stroke-width="0.85" stroke-dasharray="2,1.1"/>
<line x1="374" y1="539.6" x2="374" y2="723.8" stroke="#6a6a6a" stroke-width="0.85" stroke-dasharray="2,1.1"/>
<line x1="474.2" y1="539.6" x2="474.2" y2="723.8" stroke="#6a6a6a" stroke-width="0.85" stroke-dasharray="2,1.1"/>
<line x1="574.4" y1="539.6" x2="574.4" y2="723.8" stroke="#6a6a6a" stroke-width="0.85" stroke-dasharray="2,1.1"/>
<line x1="73.4" y1="705.4" x2="674.4" y2="705.4" stroke="#6a6a6a" stroke-width="0.85" stroke-dasharray="2,1.1"/>
<line x1="73.4" y1="622.4" x2="674.4" y2="622.4" stroke="#6a6a6a" stroke-width="0.85" stroke-dasharray="2,1.1"/>
<defs><clipPath id="cc"><rect x="73.4" y="539.6" width="601" height="184.2"/></clipPath></defs>
<g clip-path="url(#cc)"><polyline points="73.4,563.2 173.6,563 273.8,564.2 374,569 474.2,569.6 574.4,569.6" fill="none" stroke="#b5c832" stroke-width="1.8" stroke-linejoin="round"/><polygon points="69.9,560.4 76.9,560.4 73.4,566.7" fill="#b5c832"/><polygon points="170.1,560.2 177.1,560.2 173.6,566.5" fill="#b5c832"/><polygon points="270.3,561.4 277.3,561.4 273.8,567.7" fill="#b5c832"/><polygon points="370.5,566.2 377.5,566.2 374,572.5" fill="#b5c832"/><polygon points="470.7,566.8 477.7,566.8 474.2,573.1" fill="#b5c832"/><polygon points="570.9,566.8 577.9,566.8 574.4,573.1" fill="#b5c832"/><polyline points="73.4,577.3 173.6,585.3 273.8,586.2 374,594.4 474.2,590.3 574.4,590.7" fill="none" stroke="#ec7c2c" stroke-width="1.8" stroke-linejoin="round"/><polygon points="69.9,580.1 76.9,580.1 73.4,573.8" fill="#ec7c2c"/><polygon points="170.1,588.1 177.1,588.1 173.6,581.8" fill="#ec7c2c"/><polygon points="270.3,589 277.3,589 273.8,582.7" fill="#ec7c2c"/><polygon points="370.5,597.2 377.5,597.2 374,590.9" fill="#ec7c2c"/><polygon points="470.7,593.1 477.7,593.1 474.2,586.8" fill="#ec7c2c"/><polygon points="570.9,593.5 577.9,593.5 574.4,587.2" fill="#ec7c2c"/><polyline points="73.4,592.1 173.6,595 273.8,599.8 374,593.8 474.2,601.9 574.4,601.9" fill="none" stroke="#8e4e40" stroke-width="1.8" stroke-linejoin="round"/><path d="M73.4,589.3 L73.4,594.9" stroke="#8e4e40" stroke-width="1.0"/><path d="M173.6,592.2 L173.6,597.8" stroke="#8e4e40" stroke-width="1.0"/><path d="M273.8,597 L273.8,602.6" stroke="#8e4e40" stroke-width="1.0"/><path d="M374,591 L374,596.6" stroke="#8e4e40" stroke-width="1.0"/><path d="M474.2,599.1 L474.2,604.7" stroke="#8e4e40" stroke-width="1.0"/><path d="M574.4,599.1 L574.4,604.7" stroke="#8e4e40" stroke-width="1.0"/><polyline points="73.4,611.6 173.6,612.8 273.8,614.3 374,614.3 474.2,612.4 574.4,612.2" fill="none" stroke="#f0b468" stroke-width="1.8" stroke-linejoin="round"/><polygon points="73.4,608.3 76.26,609.95 76.26,613.25 73.4,614.9 70.54,613.25 70.54,609.95" fill="#f0b468"/><polygon points="173.6,609.5 176.46,611.15 176.46,614.45 173.6,616.1 170.74,614.45 170.74,611.15" fill="#f0b468"/><polygon points="273.8,611 276.66,612.65 276.66,615.95 273.8,617.6 270.94,615.95 270.94,612.65" fill="#f0b468"/><polygon points="374,611 376.86,612.65 376.86,615.95 374,617.6 371.14,615.95 371.14,612.65" fill="#f0b468"/><polygon points="474.2,609.1 477.06,610.75 477.06,614.05 474.2,615.7 471.34,614.05 471.34,610.75" fill="#f0b468"/><polygon points="574.4,608.9 577.26,610.55 577.26,613.85 574.4,615.5 571.54,613.85 571.54,610.55" fill="#f0b468"/><polyline points="474.2,623.6 574.4,613.4" fill="none" stroke="#a352e0" stroke-width="1.8" stroke-linejoin="round"/><polygon points="474.2,619.6 475.14,622.31 478,622.36 475.72,624.09 476.55,626.84 474.2,625.2 471.85,626.84 472.68,624.09 470.4,622.36 473.26,622.31" fill="#a352e0"/><polygon points="574.4,609.4 575.34,612.11 578.2,612.16 575.92,613.89 576.75,616.64 574.4,615 572.05,616.64 572.88,613.89 570.6,612.16 573.46,612.11" fill="#a352e0"/><polyline points="73.4,629.4 173.6,630.2 273.8,629 374,633.8 474.2,630.2 574.4,630.2" fill="none" stroke="#6cd8df" stroke-width="1.8" stroke-linejoin="round"/><polygon points="70.6,625.9 70.6,632.9 76.9,629.4" fill="#6cd8df"/><polygon points="170.8,626.7 170.8,633.7 177.1,630.2" fill="#6cd8df"/><polygon points="271,625.5 271,632.5 277.3,629" fill="#6cd8df"/><polygon points="371.2,630.3 371.2,637.3 377.5,633.8" fill="#6cd8df"/><polygon points="471.4,626.7 471.4,633.7 477.7,630.2" fill="#6cd8df"/><polygon points="571.6,626.7 571.6,633.7 577.9,630.2" fill="#6cd8df"/><polyline points="474.2,635.7 574.4,649.9" fill="none" stroke="#7f7f7f" stroke-width="1.8" stroke-linejoin="round"/><polygon points="474.2,631.3 478.6,635.7 474.2,640.1 469.8,635.7" fill="#7f7f7f"/><polygon points="574.4,645.5 578.8,649.9 574.4,654.3 570,649.9" fill="#7f7f7f"/><polyline points="73.4,637.4 173.6,665.3 273.8,646.5 374,647.5 474.2,645.4 574.4,644.7" fill="none" stroke="#40b032" stroke-width="1.8" stroke-linejoin="round"/><rect x="70.4" y="634.4" width="6" height="6" fill="#40b032"/><rect x="170.6" y="662.3" width="6" height="6" fill="#40b032"/><rect x="270.8" y="643.5" width="6" height="6" fill="#40b032"/><rect x="371" y="644.5" width="6" height="6" fill="#40b032"/><rect x="471.2" y="642.4" width="6" height="6" fill="#40b032"/><rect x="571.4" y="641.7" width="6" height="6" fill="#40b032"/><polyline points="474.2,696 574.4,661" fill="none" stroke="#4a80c0" stroke-width="1.8" stroke-linejoin="round"/><circle cx="474.2" cy="696" r="3.0" fill="none" stroke="#4a80c0" stroke-width="1.3"/><circle cx="474.2" cy="696" r="0.7" fill="#4a80c0"/><circle cx="574.4" cy="661" r="3.0" fill="none" stroke="#4a80c0" stroke-width="1.3"/><circle cx="574.4" cy="661" r="0.7" fill="#4a80c0"/><polyline points="73.4,661 173.6,669.5 273.8,670.2 374,671.8 474.2,673.6 574.4,673.7" fill="none" stroke="#d62a28" stroke-width="1.8" stroke-linejoin="round"/><circle cx="73.4" cy="661" r="3.2" fill="#d62a28"/><circle cx="173.6" cy="669.5" r="3.2" fill="#d62a28"/><circle cx="273.8" cy="670.2" r="3.2" fill="#d62a28"/><circle cx="374" cy="671.8" r="3.2" fill="#d62a28"/><circle cx="474.2" cy="673.6" r="3.2" fill="#d62a28"/><circle cx="574.4" cy="673.7" r="3.2" fill="#d62a28"/><polyline points="73.4,674.4 173.6,672.6 273.8,676.9 374,674.3 474.2,677.9 574.4,678.3" fill="none" stroke="#d272cc" stroke-width="1.8" stroke-linejoin="round"/><path d="M70.4,671.4 L76.4,677.4 M70.4,677.4 L76.4,671.4" stroke="#d272cc" stroke-width="1.3"/><path d="M170.6,669.6 L176.6,675.6 M170.6,675.6 L176.6,669.6" stroke="#d272cc" stroke-width="1.3"/><path d="M270.8,673.9 L276.8,679.9 M270.8,679.9 L276.8,673.9" stroke="#d272cc" stroke-width="1.3"/><path d="M371,671.3 L377,677.3 M371,677.3 L377,671.3" stroke="#d272cc" stroke-width="1.3"/><path d="M471.2,674.9 L477.2,680.9 M471.2,680.9 L477.2,674.9" stroke="#d272cc" stroke-width="1.3"/><path d="M571.4,675.3 L577.4,681.3 M571.4,681.3 L577.4,675.3" stroke="#d272cc" stroke-width="1.3"/><polyline points="73.4,647.5 173.6,666.6 273.8,672.8 374,682.2 474.2,681.5 574.4,681.2" fill="none" stroke="#a2ea72" stroke-width="1.8" stroke-linejoin="round"/><circle cx="73.4" cy="647.5" r="2.7" fill="#a2ea72"/><circle cx="173.6" cy="666.6" r="2.7" fill="#a2ea72"/><circle cx="273.8" cy="672.8" r="2.7" fill="#a2ea72"/><circle cx="374" cy="682.2" r="2.7" fill="#a2ea72"/><circle cx="474.2" cy="681.5" r="2.7" fill="#a2ea72"/><circle cx="574.4" cy="681.2" r="2.7" fill="#a2ea72"/><polyline points="73.4,679.2 173.6,692.4 273.8,685.8 374,688.7 474.2,689.5 574.4,689.9" fill="none" stroke="#b2caee" stroke-width="1.8" stroke-linejoin="round"/><polygon points="76.2,675.7 76.2,682.7 69.9,679.2" fill="#b2caee"/><polygon points="176.4,688.9 176.4,695.9 170.1,692.4" fill="#b2caee"/><polygon points="276.6,682.3 276.6,689.3 270.3,685.8" fill="#b2caee"/><polygon points="376.8,685.2 376.8,692.2 370.5,688.7" fill="#b2caee"/><polygon points="477,686 477,693 470.7,689.5" fill="#b2caee"/><polygon points="577.2,686.4 577.2,693.4 570.9,689.9" fill="#b2caee"/><polyline points="73.4,677.7 173.6,695.2 273.8,705.4 374,701 474.2,696.7 574.4,696.5" fill="none" stroke="#f49494" stroke-width="1.8" stroke-linejoin="round"/><polygon points="73.4,674.4 76.54,676.68 75.34,680.37 71.46,680.37 70.26,676.68" fill="#f49494"/><polygon points="173.6,691.9 176.74,694.18 175.54,697.87 171.66,697.87 170.46,694.18" fill="#f49494"/><polygon points="273.8,702.1 276.94,704.38 275.74,708.07 271.86,708.07 270.66,704.38" fill="#f49494"/><polygon points="374,697.7 377.14,699.98 375.94,703.67 372.06,703.67 370.86,699.98" fill="#f49494"/><polygon points="474.2,693.4 477.34,695.68 476.14,699.37 472.26,699.37 471.06,695.68" fill="#f49494"/><polygon points="574.4,693.2 577.54,695.48 576.34,699.17 572.46,699.17 571.26,695.48" fill="#f49494"/><polyline points="73.4,689 173.6,707 273.8,702.5 374,707.8 474.2,706.8 574.4,707.2" fill="none" stroke="#c044c4" stroke-width="1.8" stroke-linejoin="round"/><circle cx="73.4" cy="689" r="3.2" fill="#c044c4"/><circle cx="173.6" cy="707" r="3.2" fill="#c044c4"/><circle cx="273.8" cy="702.5" r="3.2" fill="#c044c4"/><circle cx="374" cy="707.8" r="3.2" fill="#c044c4"/><circle cx="474.2" cy="706.8" r="3.2" fill="#c044c4"/><circle cx="574.4" cy="707.2" r="3.2" fill="#c044c4"/></g>
<g transform="translate(578.51,572.7) scale(0.9929,1.0000)" style='font-family:"Liberation Sans", sans-serif;' fill="#b5c832" stroke="#b5c832" stroke-width="0.3" stroke-linejoin="round"><text x="0" y="0" font-size="12.2">EuSe</text></g>
<g transform="translate(578.47,593.6) scale(1.0100,1.0000)" style='font-family:"Liberation Sans", sans-serif;' fill="#ec7c2c" stroke="#ec7c2c" stroke-width="0.3" stroke-linejoin="round"><text x="0" y="0" font-size="12.2">CrSe</text></g>
<g transform="translate(578.48,605) scale(1.0172,1.0000)" style='font-family:"Liberation Sans", sans-serif;' fill="#8e4e40" stroke="#8e4e40" stroke-width="0.3" stroke-linejoin="round"><text x="0" y="0" font-size="12.2">DyBa</text><text x="29.83" y="2.44" font-size="8.78">2</text><text x="34.72" y="0" font-size="12.2">Cu</text><text x="50.31" y="2.44" font-size="8.78">3</text><text x="55.2" y="0" font-size="12.2">O</text><text x="64.69" y="2.44" font-size="8.78">7</text></g>
<g transform="translate(575.64,610) scale(0.9628,1.0000)" style='font-family:"Liberation Sans", sans-serif;' fill="#f0b468" stroke="#f0b468" stroke-width="0.3" stroke-linejoin="round"><text x="0" y="0" font-size="12.2">MnGe</text></g>
<g transform="translate(577.58,622.8) scale(1.0004,1.0000)" style='font-family:"Liberation Sans", sans-serif;' fill="#a352e0" stroke="#a352e0" stroke-width="0.3" stroke-linejoin="round"><text x="0" y="0" font-size="12.2">CrVTiAl</text></g>
<g transform="translate(578.87,633.6) scale(0.9306,1.0000)" style='font-family:"Liberation Sans", sans-serif;' fill="#6cd8df" stroke="#6cd8df" stroke-width="0.3" stroke-linejoin="round"><text x="0" y="0" font-size="12.2">EuTe</text></g>
<g transform="translate(579.15,643) scale(1.0503,1.0000)" style='font-family:"Liberation Sans", sans-serif;' fill="#40b032" stroke="#40b032" stroke-width="0.3" stroke-linejoin="round"><text x="0" y="0" font-size="12.2">CrSi</text></g>
<g transform="translate(580.38,652.9) scale(1.0197,1.0000)" style='font-family:"Liberation Sans", sans-serif;' fill="#7f7f7f" stroke="#7f7f7f" stroke-width="0.3" stroke-linejoin="round"><text x="0" y="0" font-size="12.2">EuMnBi</text></g>
<g transform="translate(579.31,664.2) scale(0.9902,1.0000)" style='font-family:"Liberation Sans", sans-serif;' fill="#4a80c0" stroke="#4a80c0" stroke-width="0.3" stroke-linejoin="round"><text x="0" y="0" font-size="12.2">BiSbTeSe</text><text x="54.93" y="2.44" font-size="8.78">2</text></g>
<g transform="translate(576.89,670.6) scale(0.9904,1.0000)" style='font-family:"Liberation Sans", sans-serif;' fill="#d62a28" stroke="#d62a28" stroke-width="0.3" stroke-linejoin="round"><text x="0" y="0" font-size="12.2">CrTe</text></g>
<g transform="translate(581.67,681.5) scale(1.0305,1.0000)" style='font-family:"Liberation Sans", sans-serif;' fill="#d272cc" stroke="#d272cc" stroke-width="0.3" stroke-linejoin="round"><text x="0" y="0" font-size="12.2">EuFe</text><text x="29.16" y="2.44" font-size="8.78">2</text><text x="34.04" y="0" font-size="12.2">As</text><text x="48.28" y="2.44" font-size="8.78">2</text></g>
<g transform="translate(577.7,689.8) scale(1.0022,1.0000)" style='font-family:"Liberation Sans", sans-serif;' fill="#a2ea72" stroke="#a2ea72" stroke-width="0.3" stroke-linejoin="round"><text x="0" y="0" font-size="12.2">NaCo</text><text x="31.19" y="2.44" font-size="8.78">2</text><text x="36.08" y="0" font-size="12.2">O</text><text x="45.57" y="2.44" font-size="8.78">4</text></g>
<g transform="translate(577.79,698.8) scale(0.9081,1.0000)" style='font-family:"Liberation Sans", sans-serif;' fill="#b2caee" stroke="#b2caee" stroke-width="0.3" stroke-linejoin="round"><text x="0" y="0" font-size="12.2">FeGa</text></g>
<g transform="translate(576.75,705.5) scale(0.9286,1.0000)" style='font-family:"Liberation Sans", sans-serif;' fill="#f49494" stroke="#f49494" stroke-width="0.3" stroke-linejoin="round"><text x="0" y="0" font-size="12.2">TaSe</text><text x="29.16" y="2.44" font-size="8.78">3</text></g>
<g transform="translate(579.1,716.5) scale(1.0333,1.0000)" style='font-family:"Liberation Sans", sans-serif;' fill="#c044c4" stroke="#c044c4" stroke-width="0.3" stroke-linejoin="round"><text x="0" y="0" font-size="12.2">ZrZn</text><text x="25.75" y="2.44" font-size="8.78">2</text></g>
<line x1="73.4" y1="723.8" x2="73.4" y2="718.3" stroke="#000" stroke-width="1"/>
<line x1="173.6" y1="723.8" x2="173.6" y2="718.3" stroke="#000" stroke-width="1"/>
<line x1="273.8" y1="723.8" x2="273.8" y2="718.3" stroke="#000" stroke-width="1"/>
<line x1="374" y1="723.8" x2="374" y2="718.3" stroke="#000" stroke-width="1"/>
<line x1="474.2" y1="723.8" x2="474.2" y2="718.3" stroke="#000" stroke-width="1"/>
<line x1="574.4" y1="723.8" x2="574.4" y2="718.3" stroke="#000" stroke-width="1"/>
<line x1="73.4" y1="705.4" x2="78.9" y2="705.4" stroke="#000" stroke-width="1"/>
<line x1="73.4" y1="622.4" x2="78.9" y2="622.4" stroke="#000" stroke-width="1"/>
<line x1="73.4" y1="539.4" x2="78.9" y2="539.4" stroke="#000" stroke-width="1"/>
<line x1="73.4" y1="718.26" x2="76.2" y2="718.26" stroke="#000" stroke-width="0.7"/>
<line x1="73.4" y1="713.44" x2="76.2" y2="713.44" stroke="#000" stroke-width="0.7"/>
<line x1="73.4" y1="709.2" x2="76.2" y2="709.2" stroke="#000" stroke-width="0.7"/>
<line x1="73.4" y1="680.41" x2="76.2" y2="680.41" stroke="#000" stroke-width="0.7"/>
<line x1="73.4" y1="665.8" x2="76.2" y2="665.8" stroke="#000" stroke-width="0.7"/>
<line x1="73.4" y1="655.43" x2="76.2" y2="655.43" stroke="#000" stroke-width="0.7"/>
<line x1="73.4" y1="647.39" x2="76.2" y2="647.39" stroke="#000" stroke-width="0.7"/>
<line x1="73.4" y1="640.81" x2="76.2" y2="640.81" stroke="#000" stroke-width="0.7"/>
<line x1="73.4" y1="635.26" x2="76.2" y2="635.26" stroke="#000" stroke-width="0.7"/>
<line x1="73.4" y1="630.44" x2="76.2" y2="630.44" stroke="#000" stroke-width="0.7"/>
<line x1="73.4" y1="626.2" x2="76.2" y2="626.2" stroke="#000" stroke-width="0.7"/>
<line x1="73.4" y1="597.41" x2="76.2" y2="597.41" stroke="#000" stroke-width="0.7"/>
<line x1="73.4" y1="582.8" x2="76.2" y2="582.8" stroke="#000" stroke-width="0.7"/>
<line x1="73.4" y1="572.43" x2="76.2" y2="572.43" stroke="#000" stroke-width="0.7"/>
<line x1="73.4" y1="564.39" x2="76.2" y2="564.39" stroke="#000" stroke-width="0.7"/>
<line x1="73.4" y1="557.81" x2="76.2" y2="557.81" stroke="#000" stroke-width="0.7"/>
<line x1="73.4" y1="552.26" x2="76.2" y2="552.26" stroke="#000" stroke-width="0.7"/>
<line x1="73.4" y1="547.44" x2="76.2" y2="547.44" stroke="#000" stroke-width="0.7"/>
<line x1="73.4" y1="543.2" x2="76.2" y2="543.2" stroke="#000" stroke-width="0.7"/>
<rect x="73.4" y="539.6" width="601" height="184.2" fill="none" stroke="#000" stroke-width="1.25"/>
<g style='font-family:"Liberation Sans", sans-serif;' fill="#000" stroke="#000" stroke-width="0.37" stroke-linejoin="round"><text transform="translate(55.97,739.6) scale(0.860,1)" font-size="18">2</text><text transform="translate(65.51,739.6) scale(0.860,1)" font-size="18">0</text><path transform="translate(74.59,739.6) scale(18)" stroke-width="0.0178" d="M0.295,0 L0.295,-0.70 L0.215,-0.70 L0.10,-0.585 L0.10,-0.485 L0.21,-0.59 L0.21,0 Z"/><text transform="translate(82.09,739.6) scale(0.860,1)" font-size="18">5</text></g>
<g style='font-family:"Liberation Sans", sans-serif;' fill="#000" stroke="#000" stroke-width="0.37" stroke-linejoin="round"><text transform="translate(156.22,739.6) scale(0.860,1)" font-size="18">2</text><text transform="translate(165.76,739.6) scale(0.860,1)" font-size="18">0</text><path transform="translate(174.84,739.6) scale(18)" stroke-width="0.0178" d="M0.295,0 L0.295,-0.70 L0.215,-0.70 L0.10,-0.585 L0.10,-0.485 L0.21,-0.59 L0.21,0 Z"/><text transform="translate(182.27,739.6) scale(0.860,1)" font-size="18">6</text></g>
<g style='font-family:"Liberation Sans", sans-serif;' fill="#000" stroke="#000" stroke-width="0.37" stroke-linejoin="round"><text transform="translate(256.45,739.6) scale(0.860,1)" font-size="18">2</text><text transform="translate(265.99,739.6) scale(0.860,1)" font-size="18">0</text><path transform="translate(275.06,739.6) scale(18)" stroke-width="0.0178" d="M0.295,0 L0.295,-0.70 L0.215,-0.70 L0.10,-0.585 L0.10,-0.485 L0.21,-0.59 L0.21,0 Z"/><text transform="translate(282.54,739.6) scale(0.860,1)" font-size="18">7</text></g>
<g style='font-family:"Liberation Sans", sans-serif;' fill="#000" stroke="#000" stroke-width="0.37" stroke-linejoin="round"><text transform="translate(356.59,739.6) scale(0.860,1)" font-size="18">2</text><text transform="translate(366.13,739.6) scale(0.860,1)" font-size="18">0</text><path transform="translate(375.21,739.6) scale(18)" stroke-width="0.0178" d="M0.295,0 L0.295,-0.70 L0.215,-0.70 L0.10,-0.585 L0.10,-0.485 L0.21,-0.59 L0.21,0 Z"/><text transform="translate(382.69,739.6) scale(0.860,1)" font-size="18">8</text></g>
<g style='font-family:"Liberation Sans", sans-serif;' fill="#000" stroke="#000" stroke-width="0.37" stroke-linejoin="round"><text transform="translate(456.82,739.6) scale(0.860,1)" font-size="18">2</text><text transform="translate(466.36,739.6) scale(0.860,1)" font-size="18">0</text><path transform="translate(475.44,739.6) scale(18)" stroke-width="0.0178" d="M0.295,0 L0.295,-0.70 L0.215,-0.70 L0.10,-0.585 L0.10,-0.485 L0.21,-0.59 L0.21,0 Z"/><text transform="translate(482.92,739.6) scale(0.860,1)" font-size="18">9</text></g>
<g style='font-family:"Liberation Sans", sans-serif;' fill="#000" stroke="#000" stroke-width="0.37" stroke-linejoin="round"><text transform="translate(555.7,739.6) scale(0.860,1)" font-size="18">2</text><text transform="translate(565.24,739.6) scale(0.860,1)" font-size="18">0</text><text transform="translate(574.78,739.6) scale(0.860,1)" font-size="18">2</text><text transform="translate(584.32,739.6) scale(0.860,1)" font-size="18">0</text></g>
<g style='font-family:"Liberation Sans", sans-serif;' fill="#000" stroke="#000" stroke-width="0.37" stroke-linejoin="round"><path transform="translate(48.61,711.6) scale(18)" stroke-width="0.0178" d="M0.295,0 L0.295,-0.70 L0.215,-0.70 L0.10,-0.585 L0.10,-0.485 L0.21,-0.59 L0.21,0 Z"/><text transform="translate(56.1,711.6) scale(0.860,1)" font-size="18">0</text></g>
<g style='font-family:"Liberation Sans", sans-serif;' fill="#000" stroke="#000" stroke-width="0.3" stroke-linejoin="round"><text transform="translate(65.38,705.5) scale(0.860,1)" font-size="13.32">0</text></g>
<g style='font-family:"Liberation Sans", sans-serif;' fill="#000" stroke="#000" stroke-width="0.37" stroke-linejoin="round"><path transform="translate(50.81,628.6) scale(18)" stroke-width="0.0178" d="M0.295,0 L0.295,-0.70 L0.215,-0.70 L0.10,-0.585 L0.10,-0.485 L0.21,-0.59 L0.21,0 Z"/><text transform="translate(58.3,628.6) scale(0.860,1)" font-size="18">0</text></g>
<g style='font-family:"Liberation Sans", sans-serif;' fill="#000" stroke="#000" stroke-width="0.3" stroke-linejoin="round"><path transform="translate(67.47,622.5) scale(13.32)" stroke-width="0.0192" d="M0.295,0 L0.295,-0.70 L0.215,-0.70 L0.10,-0.585 L0.10,-0.485 L0.21,-0.59 L0.21,0 Z"/></g>
<g style='font-family:"Liberation Sans", sans-serif;' fill="#000" stroke="#000" stroke-width="0.37" stroke-linejoin="round"><path transform="translate(48.61,545.6) scale(18)" stroke-width="0.0178" d="M0.295,0 L0.295,-0.70 L0.215,-0.70 L0.10,-0.585 L0.10,-0.485 L0.21,-0.59 L0.21,0 Z"/><text transform="translate(56.1,545.6) scale(0.860,1)" font-size="18">0</text></g>
<g style='font-family:"Liberation Sans", sans-serif;' fill="#000" stroke="#000" stroke-width="0.3" stroke-linejoin="round"><text transform="translate(65.51,539.5) scale(0.860,1)" font-size="13.32">2</text></g>
<g transform="translate(355.92,757.7) scale(0.9511,1.0000)" style='font-family:"Liberation Sans", sans-serif;' fill="#000" stroke="#000" stroke-width="0.32" stroke-linejoin="round"><text x="0" y="0" font-size="18">Year</text></g>
<g transform="translate(41.34,649.94) rotate(-90) scale(1.1171,1.1070)" style='font-family:"Liberation Sans", sans-serif;font-style:italic;' fill="#000" stroke="#000" stroke-width="0.3" stroke-linejoin="round"><text x="0" y="0" font-size="18">ξ</text></g>
<g transform="translate(33.8,638.6) rotate(-90) scale(1.0681,1.0233)" style='font-family:"Liberation Sans", sans-serif;' fill="#000" stroke="#000" stroke-width="0.35" stroke-linejoin="round"><text x="0" y="0" font-size="12.5">NN</text></g>
<g transform="translate(46.17,639.36) rotate(-90) scale(0.9943,1.0508)" style='font-family:"Liberation Sans", sans-serif;' fill="#000" stroke="#000" stroke-width="0.35" stroke-linejoin="round"><text x="0" y="0" font-size="12.5">SOT</text></g>
</svg></body></html>
